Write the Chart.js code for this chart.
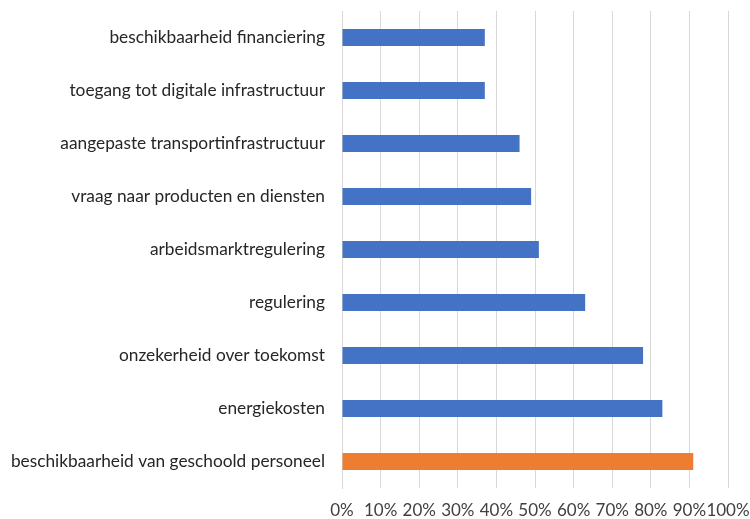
<!DOCTYPE html>
<html>
<head>
<meta charset="utf-8">
<script src="https://cdn.jsdelivr.net/npm/chart.js@4/dist/chart.umd.min.js"></script>
<style>
  html, body { margin: 0; padding: 0; background: #fff; }
  #wrap { width: 750px; height: 519px; }
</style>
</head>
<body>
<div id="wrap"><canvas id="chart-bars" width="750" height="519"></canvas></div>
<script>
var categories = [
  "beschikbaarheid financiering",
  "toegang tot digitale infrastructuur",
  "aangepaste transportinfrastructuur",
  "vraag naar producten en diensten",
  "arbeidsmarktregulering",
  "regulering",
  "onzekerheid over toekomst",
  "energiekosten",
  "beschikbaarheid van geschoold personeel"
];
var percentages = [37, 37, 46, 49, 51, 63, 78, 83, 91];
var highlight = "beschikbaarheid van geschoold personeel";

var blue = "#4472C4";
var orange = "#ED7D31";
var barColors = categories.map(function (c) { return c === highlight ? orange : blue; });

var ctx = document.getElementById("chart-bars").getContext("2d");
new Chart(ctx, {
  type: "bar",
  data: {
    labels: categories,
    datasets: [{
      data: percentages,
      backgroundColor: barColors,
      borderWidth: 0,
      barPercentage: 0.64,
      categoryPercentage: 0.5
    }]
  },
  options: {
    indexAxis: "y",
    responsive: false,
    animation: false,
    layout: { padding: { top: 11, right: 22, bottom: 0, left: 0 } },
    plugins: {
      legend: { display: false },
      tooltip: { enabled: false }
    },
    scales: {
      x: {
        min: 0,
        max: 100,
        afterFit: function (scale) {
          scale.height = 31;
          scale.paddingLeft = 0;
          scale.paddingRight = 0;
        },
        grid: { color: "#d9d9d9", drawTicks: false },
        border: { display: false },
        ticks: {
          stepSize: 10,
          padding: 12,
          maxRotation: 0,
          autoSkip: false,
          color: "#404040",
          font: { family: "Lato", size: 17 },
          callback: function (v) { return v + "%"; }
        }
      },
      y: {
        afterFit: function (scale) {
          scale.width = 342;
          scale.paddingTop = 0;
          scale.paddingBottom = 0;
        },
        grid: { display: false, drawTicks: false },
        border: { display: true, color: "#d9d9d9" },
        ticks: {
          padding: 17,
          color: "#262626",
          font: { family: "Lato", size: 17.3 }
        }
      }
    }
  }
});
</script>
</body>
</html>
